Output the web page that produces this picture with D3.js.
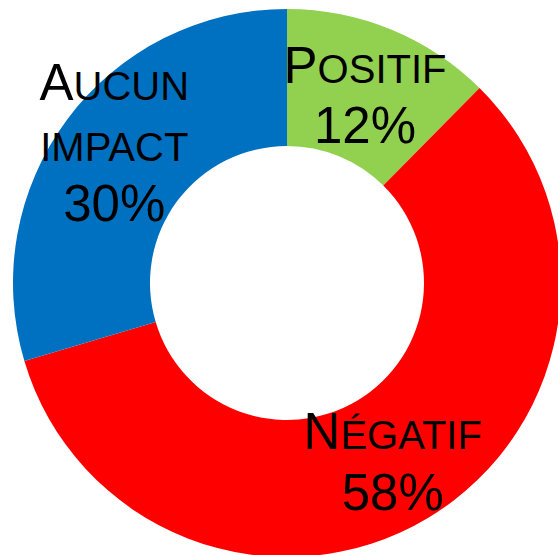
<!DOCTYPE html>
<html>
<head>
<meta charset="utf-8">
<script src="https://cdn.jsdelivr.net/npm/d3@7"></script>
<style>
  html, body { margin: 0; padding: 0; background: #fff; }
  svg { display: block; }
</style>
</head>
<body>
<svg id="chart" width="558" height="555"></svg>
<script>
const categories = ["Positif", "Négatif", "Aucun impact"];
const values = [12.4, 58.0, 29.6];
const colors = ["#92D050", "#FF0000", "#0070C0"];

const W = 558, H = 555;
const cx = 287, cy = 283, R = 274, r = 137;
const bigSize = 51, smallSize = 40, lineH = 60.5;

const svg = d3.select("#chart");
const g = svg.append("g").attr("transform", `translate(${cx},${cy})`);

const data = categories.map((c, i) => ({ cat: c, val: values[i], color: colors[i] }));
const pie = d3.pie().value(d => d.val).sort(null);
const arc = d3.arc().innerRadius(r).outerRadius(R);
const arcs = pie(data);
const fmt = d3.format(".0f");

g.selectAll("path.slice").data(arcs).enter().append("path")
  .attr("class", "slice")
  .attr("d", arc)
  .attr("fill", d => d.data.color);

const nudges = { "Aucun impact": [-8, -20] };

arcs.forEach(a => {
  const [x, y] = arc.centroid(a);
  const nd = nudges[a.data.cat] || [0, 0];
  const lines = a.data.cat.split(" ");
  const allLines = lines.map(l => ({ kind: "cat", text: l })).concat([{ kind: "pct", text: fmt(a.data.val) + "%" }]);
  const n = allLines.length;
  const firstBase = y - 10 - (n - 2) * 30 + nd[1];
  allLines.forEach((ln, i) => {
    const t = g.append("text")
      .attr("x", x + nd[0])
      .attr("y", firstBase + i * lineH)
      .attr("text-anchor", "middle")
      .attr("font-family", "'Liberation Sans', Arial, sans-serif")
      .attr("fill", "#000");
    if (ln.kind === "pct") {
      t.attr("font-size", bigSize).text(ln.text);
    } else {
      // small caps: uppercase letters at full size, lowercase letters as reduced capitals
      const chars = Array.from(ln.text);
      let runs = [];
      chars.forEach(ch => {
        const isLower = ch !== ch.toUpperCase();
        const size = isLower ? smallSize : bigSize;
        const out = ch.toUpperCase();
        if (runs.length && runs[runs.length - 1].size === size) runs[runs.length - 1].s += out;
        else runs.push({ size, s: out });
      });
      runs.forEach(rn => t.append("tspan").attr("font-size", rn.size).text(rn.s));
    }
  });
});
</script>
</body>
</html>
